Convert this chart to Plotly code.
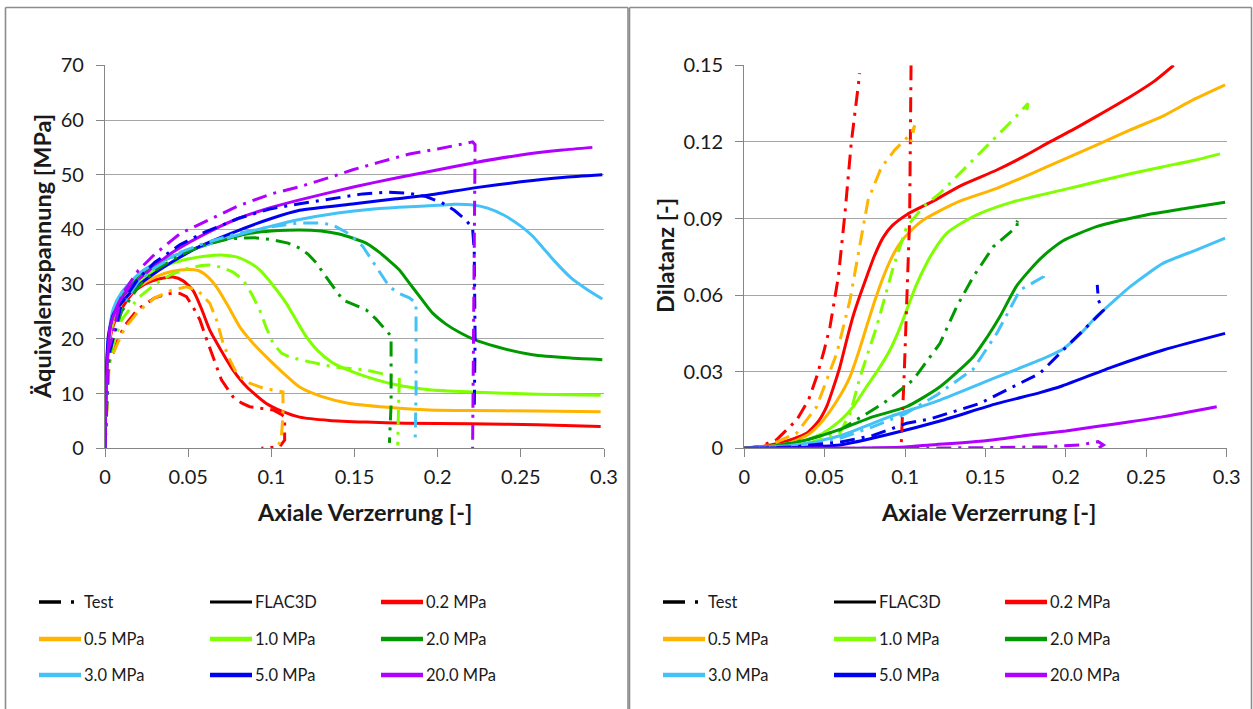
import plotly.graph_objects as go

W, H = 1253, 709

# ---------------- labels / categories ----------------
pressures = ["0.2 MPa", "0.5 MPa", "1.0 MPa", "2.0 MPa", "3.0 MPa", "5.0 MPa", "20.0 MPa"]
colors = ["#FF0000", "#FFB400", "#80FF00", "#009A00", "#44C2F8", "#0000F0", "#B000FF"]
legend_names = ["Test", "FLAC3D"] + pressures
x_ticks = [0, 0.05, 0.1, 0.15, 0.2, 0.25, 0.3]
x_ticktext = ["0", "0.05", "0.1", "0.15", "0.2", "0.25", "0.3"]
stress_ticks = [0, 10, 20, 30, 40, 50, 60, 70]
dil_ticks = [0, 0.03, 0.06, 0.09, 0.12, 0.15]
dil_ticktext = ["0", "0.03", "0.06", "0.09", "0.12", "0.15"]

# ---------------- left panel: stress vs axial strain, FLAC3D ----------------
eps_f_02 = [0, 0.0008, 0.002, 0.005, 0.01, 0.017, 0.025, 0.033, 0.041, 0.047, 0.053, 0.058, 0.063, 0.07, 0.077, 0.085, 0.097, 0.107, 0.117, 0.135, 0.157, 0.18, 0.22, 0.26, 0.298]
sig_f_02 = [0, 12, 18, 22.5, 25.5, 28.5, 30.2, 31.0, 31.3, 30.6, 28.8, 25.5, 21.6, 17.8, 14.3, 11.3, 8.2, 6.7, 5.7, 5.1, 4.8, 4.6, 4.5, 4.3, 4.0]
eps_f_05 = [0, 0.0008, 0.002, 0.005, 0.01, 0.02, 0.03, 0.04, 0.05, 0.056, 0.062, 0.067, 0.074, 0.081, 0.089, 0.097, 0.107, 0.117, 0.13, 0.147, 0.17, 0.195, 0.22, 0.26, 0.298]
sig_f_05 = [0, 12, 18.5, 23, 26.5, 29.5, 31.3, 32.3, 32.7, 32.5, 31.3, 29.5, 26, 22.2, 19.2, 16.7, 13.8, 11.2, 9.5, 8.2, 7.5, 7.0, 6.9, 6.8, 6.7]
eps_f_10 = [0, 0.0008, 0.002, 0.005, 0.01, 0.02, 0.03, 0.04, 0.05, 0.06, 0.071, 0.08, 0.087, 0.093, 0.101, 0.109, 0.115, 0.121, 0.128, 0.137, 0.147, 0.157, 0.175, 0.195, 0.22, 0.26, 0.298]
sig_f_10 = [0, 12.5, 19, 24, 27.5, 30.5, 32.5, 33.8, 34.6, 35.1, 35.3, 34.9, 33.9, 32.6, 29.8, 26.5, 23.4, 20.4, 17.8, 15.6, 14.2, 13.1, 11.6, 10.7, 10.3, 9.9, 9.7]
eps_f_20 = [0, 0.0008, 0.002, 0.005, 0.01, 0.02, 0.03, 0.04, 0.057, 0.07, 0.087, 0.1, 0.117, 0.13, 0.14, 0.15, 0.157, 0.165, 0.172, 0.177, 0.183, 0.19, 0.197, 0.205, 0.213, 0.221, 0.235, 0.257, 0.28, 0.299]
sig_f_20 = [0, 13, 19.5, 25, 28, 31.5, 33.5, 35, 36.8, 38, 39.3, 39.7, 39.9, 39.7, 39.2, 38.3, 37.5, 35.8, 34, 32.6, 30.2, 27.4, 24.7, 22.7, 21.2, 20, 18.6, 17.1, 16.5, 16.2]
eps_f_30 = [0, 0.0008, 0.002, 0.005, 0.01, 0.02, 0.027, 0.04, 0.057, 0.08, 0.1, 0.117, 0.14, 0.16, 0.18, 0.2, 0.21, 0.22, 0.23, 0.24, 0.25, 0.257, 0.264, 0.27, 0.28, 0.29, 0.299]
sig_f_30 = [0, 13, 20, 25.5, 28.5, 31.8, 33.3, 35, 36.8, 39, 40.6, 41.8, 43, 43.7, 44.1, 44.4, 44.6, 44.5, 43.9, 42.6, 40.6, 38.8, 36.4, 34.3, 31.2, 29.0, 27.3]
eps_f_50 = [0, 0.0008, 0.002, 0.005, 0.009, 0.017, 0.027, 0.04, 0.057, 0.08, 0.1, 0.117, 0.15, 0.175, 0.195, 0.222, 0.25, 0.275, 0.299]
sig_f_50 = [0, 13.5, 20.5, 24.5, 26.2, 29, 31.4, 34, 36.9, 39.8, 42, 43.5, 44.7, 45.6, 46.3, 47.6, 48.7, 49.5, 50.0]
eps_f_200 = [0, 0.0008, 0.002, 0.003, 0.006, 0.009, 0.017, 0.027, 0.04, 0.057, 0.08, 0.1, 0.117, 0.15, 0.175, 0.195, 0.222, 0.25, 0.275, 0.293]
sig_f_200 = [0, 12, 18.5, 22, 25, 27, 30, 32.6, 35.7, 38.7, 42, 44, 45.4, 47.8, 49.4, 50.6, 52.2, 53.6, 54.5, 55.0]

# ---------------- left panel: stress vs axial strain, Test ----------------
eps_t_02 = [0, 0.001, 0.002, 0.003, 0.005, 0.008, 0.012, 0.02, 0.03, 0.037, 0.041, 0.045, 0.049, 0.053, 0.057, 0.061, 0.065, 0.07, 0.077, 0.082, 0.087, 0.095, 0.101, 0.106, 0.108, 0.108, 0.105, 0.094]
sig_t_02 = [0, 8, 14, 16.5, 17.5, 20, 22.5, 25.5, 27.5, 28.2, 28.4, 28.3, 27.7, 25.8, 23.5, 20, 16.7, 12.5, 9.4, 8.3, 7.6, 7.2, 7.0, 6.2, 5.7, 1.5, 0.3, 0]
eps_t_05 = [0, 0.001, 0.002, 0.003, 0.005, 0.008, 0.012, 0.02, 0.03, 0.04, 0.049, 0.056, 0.063, 0.067, 0.071, 0.075, 0.079, 0.083, 0.087, 0.095, 0.102, 0.107, 0.107, 0.106, 0.104]
sig_t_05 = [0, 7, 13, 16, 17.5, 19.5, 22, 25, 27.5, 28.9, 29.5, 28.8, 26.5, 23.5, 19.2, 16.2, 13.8, 12.6, 11.9, 11.0, 10.6, 10.3, 6, 2, 0.3]
eps_t_10 = [0, 0.001, 0.002, 0.004, 0.006, 0.01, 0.02, 0.03, 0.04, 0.05, 0.058, 0.063, 0.07, 0.077, 0.083, 0.088, 0.093, 0.097, 0.101, 0.106, 0.111, 0.117, 0.127, 0.137, 0.147, 0.157, 0.167, 0.177, 0.1765, 0.176, 0.176]
sig_t_10 = [0, 8, 14, 18, 20, 23.5, 27.5, 30, 31.8, 32.9, 33.4, 33.5, 33.1, 32.2, 30.8, 28.3, 25.3, 22, 19.2, 17.4, 16.7, 16.2, 15.5, 14.9, 14.6, 14.3, 13.6, 12.9, 8, 3, 0.5]
eps_t_20 = [0, 0.001, 0.002, 0.004, 0.006, 0.01, 0.02, 0.03, 0.045, 0.06, 0.075, 0.09, 0.101, 0.11, 0.117, 0.122, 0.127, 0.132, 0.137, 0.143, 0.15, 0.157, 0.163, 0.169, 0.172, 0.172, 0.171]
sig_t_20 = [0, 9, 15, 19, 21.5, 25, 29.5, 32.5, 35.3, 37.2, 38.3, 38.5, 38.1, 37.5, 36.6, 35.5, 33.9, 31.7, 29.5, 27.1, 26.2, 25.3, 23.6, 21.6, 20.5, 8, 1]
eps_t_30 = [0, 0.001, 0.002, 0.004, 0.006, 0.01, 0.02, 0.03, 0.045, 0.06, 0.08, 0.1, 0.117, 0.13, 0.137, 0.145, 0.15, 0.155, 0.159, 0.163, 0.167, 0.171, 0.177, 0.183, 0.187, 0.187, 0.1865]
sig_t_30 = [0, 9.5, 16, 20, 22.5, 26, 30.5, 33, 35.8, 37.5, 39.3, 40.5, 41.2, 41.2, 40.8, 39.5, 38.3, 36.9, 35, 33.2, 31.3, 29.5, 28.3, 27.5, 26.5, 10, 2]
eps_t_50 = [0, 0.001, 0.002, 0.004, 0.006, 0.01, 0.02, 0.03, 0.045, 0.06, 0.08, 0.1, 0.117, 0.137, 0.155, 0.17, 0.183, 0.193, 0.203, 0.21, 0.217, 0.221, 0.222, 0.2225, 0.222]
sig_t_50 = [0, 10, 17, 19, 21.5, 26.5, 31, 34, 37.2, 39.5, 42, 43.8, 44.7, 45.7, 46.5, 46.8, 46.6, 46, 44.8, 43.5, 41.7, 40.2, 36, 20, 7]
eps_t_200 = [0, 0.001, 0.002, 0.004, 0.006, 0.01, 0.02, 0.03, 0.045, 0.057, 0.08, 0.1, 0.117, 0.137, 0.149, 0.165, 0.183, 0.2, 0.21, 0.218, 0.221, 0.2225, 0.222, 0.2215, 0.221]
sig_t_200 = [0, 11, 18, 20, 22.5, 28, 32.5, 35.5, 39.2, 41, 44.3, 46.5, 47.8, 49.7, 50.9, 52.3, 53.8, 54.7, 55.3, 55.8, 56, 55.5, 40, 15, 0]

# ---------------- right panel: dilatancy vs axial strain, FLAC3D ----------------
deps_f_02 = [0, 0.01, 0.02, 0.03, 0.039, 0.046, 0.0512, 0.0555, 0.0595, 0.0635, 0.0676, 0.072, 0.0761, 0.081, 0.0863, 0.092, 0.101, 0.1174, 0.135, 0.157, 0.175, 0.19, 0.205, 0.219, 0.24, 0.255, 0.267]
dil_f_02 = [0, 0.0006, 0.0018, 0.0036, 0.006, 0.0105, 0.0163, 0.024, 0.032, 0.042, 0.0516, 0.060, 0.0672, 0.0755, 0.0825, 0.0872, 0.0915, 0.0968, 0.103, 0.109, 0.1147, 0.120, 0.125, 0.130, 0.1377, 0.1438, 0.150]
deps_f_05 = [0, 0.015, 0.028, 0.04, 0.049, 0.058, 0.0657, 0.071, 0.076, 0.081, 0.0865, 0.0915, 0.0968, 0.104, 0.1113, 0.12, 0.134, 0.157, 0.178, 0.198, 0.22, 0.24, 0.26, 0.277, 0.299]
dil_f_05 = [0, 0.0008, 0.002, 0.0055, 0.011, 0.019, 0.028, 0.0375, 0.0476, 0.0575, 0.0672, 0.0745, 0.0803, 0.0855, 0.0894, 0.0925, 0.0968, 0.1018, 0.1074, 0.113, 0.119, 0.1247, 0.130, 0.1358, 0.1423]
deps_f_10 = [0, 0.02, 0.035, 0.049, 0.06, 0.068, 0.076, 0.0835, 0.0906, 0.096, 0.101, 0.107, 0.1134, 0.12, 0.126, 0.136, 0.1466, 0.167, 0.1797, 0.2, 0.219, 0.24, 0.2605, 0.28, 0.2958]
dil_f_10 = [0, 0.0008, 0.0025, 0.006, 0.011, 0.0165, 0.0241, 0.031, 0.0385, 0.046, 0.0542, 0.064, 0.0725, 0.0795, 0.0843, 0.0885, 0.092, 0.0965, 0.0985, 0.1015, 0.1044, 0.1075, 0.1103, 0.1128, 0.1153]
deps_f_20 = [0, 0.02, 0.0388, 0.06, 0.0802, 0.101, 0.1217, 0.1424, 0.151, 0.159, 0.1694, 0.1818, 0.19, 0.198, 0.219, 0.25, 0.275, 0.299]
dil_f_20 = [0, 0.001, 0.0033, 0.0075, 0.0124, 0.0163, 0.0241, 0.0359, 0.0435, 0.0516, 0.0636, 0.0728, 0.0775, 0.0812, 0.0868, 0.0914, 0.094, 0.0964]
deps_f_30 = [0, 0.02, 0.0388, 0.06, 0.0906, 0.1217, 0.1528, 0.1839, 0.198, 0.209, 0.219, 0.23, 0.24, 0.2606, 0.2813, 0.299]
dil_f_30 = [0, 0.0007, 0.002, 0.005, 0.0124, 0.0189, 0.0268, 0.0346, 0.0388, 0.0448, 0.0516, 0.0578, 0.0633, 0.0725, 0.0777, 0.0823]
deps_f_50 = [0, 0.03, 0.0595, 0.09, 0.1217, 0.157, 0.1839, 0.198, 0.2295, 0.2606, 0.299]
dil_f_50 = [0, 0.0003, 0.0013, 0.0055, 0.0107, 0.0175, 0.0218, 0.0245, 0.032, 0.0385, 0.045]
deps_f_200 = [0, 0.06, 0.1, 0.1155, 0.15, 0.1777, 0.2, 0.219, 0.24, 0.2606, 0.2938]
dil_f_200 = [0, 0, 0.0005, 0.0013, 0.003, 0.0052, 0.0068, 0.0085, 0.0104, 0.0124, 0.0163]

# ---------------- right panel: dilatancy vs axial strain, Test ----------------
deps_t_02 = [0, 0.01, 0.02, 0.0326, 0.04, 0.045, 0.0495, 0.0533, 0.0585, 0.0626, 0.0665, 0.0718, None, 0.1037, 0.1028, 0.0995, 0.0975]
dil_t_02 = [0, 0.0008, 0.0033, 0.0111, 0.019, 0.028, 0.038, 0.0476, 0.0672, 0.092, 0.1195, 0.1469, None, 0.150, 0.0894, 0.03, 0]
deps_t_05 = [0, 0.015, 0.0326, 0.045, 0.0575, 0.0657, 0.072, 0.077, 0.0852, 0.0935, 0.1039, 0.106, 0.1035]
dil_t_05 = [0, 0.001, 0.006, 0.0163, 0.0372, 0.058, 0.080, 0.0973, 0.110, 0.1168, 0.1234, 0.1265, 0.120]
deps_t_10 = [0, 0.02, 0.04, 0.0595, 0.066, 0.072, 0.0823, 0.0927, 0.101, 0.1113, 0.1217, 0.1404, 0.1528, 0.167, 0.1765, 0.1755]
dil_t_10 = [0, 0.0007, 0.002, 0.006, 0.014, 0.028, 0.0476, 0.0711, 0.0868, 0.0946, 0.0999, 0.1116, 0.1195, 0.1286, 0.1351, 0.132]
deps_t_20 = [0, 0.02, 0.04, 0.0595, 0.0865, 0.105, 0.1217, 0.1321, 0.1424, 0.1549, 0.1694, 0.1705, 0.1695]
dil_t_20 = [0, 0.001, 0.0035, 0.0072, 0.0176, 0.0268, 0.0411, 0.0555, 0.0672, 0.079, 0.0868, 0.090, 0.0885]
deps_t_30 = [0, 0.03, 0.06, 0.0802, 0.1, 0.12, 0.1424, 0.157, 0.1715, 0.186, 0.1855]
dil_t_30 = [0, 0.001, 0.004, 0.0085, 0.0135, 0.021, 0.031, 0.045, 0.062, 0.0672, 0.0695]
deps_t_50 = [0, 0.03, 0.06, 0.08, 0.101, 0.1155, 0.1466, 0.167, 0.1839, 0.2025, 0.219, 0.2233, 0.2202, 0.2195]
dil_t_50 = [0, 0.0005, 0.0025, 0.005, 0.0098, 0.0115, 0.0176, 0.0241, 0.0294, 0.0411, 0.0516, 0.054, 0.058, 0.064]
deps_t_200 = [0, 0.1, 0.157, 0.188, 0.2088, 0.2201, 0.2233, 0.2205]
dil_t_200 = [0, 0, 0.0003, 0.0006, 0.0013, 0.0026, 0.0013, 0.0002]

left_flac = [(eps_f_02, sig_f_02), (eps_f_05, sig_f_05), (eps_f_10, sig_f_10), (eps_f_20, sig_f_20),
             (eps_f_30, sig_f_30), (eps_f_50, sig_f_50), (eps_f_200, sig_f_200)]
left_test = [(eps_t_02, sig_t_02), (eps_t_05, sig_t_05), (eps_t_10, sig_t_10), (eps_t_20, sig_t_20),
             (eps_t_30, sig_t_30), (eps_t_50, sig_t_50), (eps_t_200, sig_t_200)]
right_flac = [(deps_f_02, dil_f_02), (deps_f_05, dil_f_05), (deps_f_10, dil_f_10), (deps_f_20, dil_f_20),
              (deps_f_30, dil_f_30), (deps_f_50, dil_f_50), (deps_f_200, dil_f_200)]
right_test = [(deps_t_02, dil_t_02), (deps_t_05, dil_t_05), (deps_t_10, dil_t_10), (deps_t_20, dil_t_20),
              (deps_t_30, dil_t_30), (deps_t_50, dil_t_50), (deps_t_200, dil_t_200)]

TEST_DASH = "15px,7px,3px,7px"
FONT = "Lato, 'Open Sans', sans-serif"

fig = go.Figure()
for i, name in enumerate(pressures):
    for (xs, ys), xa, ya in [(left_flac[i], "x", "y"), (right_flac[i], "x2", "y2")]:
        fig.add_trace(go.Scatter(x=xs, y=ys, xaxis=xa, yaxis=ya, mode="lines", name=name + " FLAC3D",
                                 line=dict(color=colors[i], width=3, shape="spline", smoothing=0.6),
                                 showlegend=False, connectgaps=False))
for i, name in enumerate(pressures):
    for (xs, ys), xa, ya in [(left_test[i], "x", "y"), (right_test[i], "x2", "y2")]:
        fig.add_trace(go.Scatter(x=xs, y=ys, xaxis=xa, yaxis=ya, mode="lines", name=name + " Test",
                                 line=dict(color=colors[i], width=3, dash=TEST_DASH),
                                 showlegend=False, connectgaps=False))

def px(x):
    return x / W

def py(y):
    return 1 - y / H

axis_common = dict(showline=True, linecolor="#868686", linewidth=1.3, ticks="outside", ticklen=8,
                   tickcolor="#868686", tickwidth=1.3, zeroline=False,
                   tickfont=dict(family=FONT, size=20, color="#1A1A1A"))

ydom = [py(448.3), py(65.3)]
fig.update_layout(
    width=W, height=H, margin=dict(l=0, r=0, t=0, b=0, pad=0, autoexpand=False),
    paper_bgcolor="white", plot_bgcolor="white", showlegend=False,
    font=dict(family=FONT, color="#1A1A1A"),
    xaxis=dict(domain=[px(105), px(604)], range=[0, 0.3], tickvals=x_ticks, ticktext=x_ticktext,
               showgrid=False, anchor="y", ticklabelstandoff=3, **axis_common),
    yaxis=dict(domain=ydom, range=[0, 70], tickvals=stress_ticks, showgrid=True,
               gridcolor="#A6A6A6", gridwidth=1.3, anchor="x", ticklabelstandoff=8, **axis_common),
    xaxis2=dict(domain=[px(744.3), px(1226.7)], range=[0, 0.3], tickvals=x_ticks, ticktext=x_ticktext,
                showgrid=False, anchor="y2", ticklabelstandoff=3, **axis_common),
    yaxis2=dict(domain=ydom, range=[0, 0.15], tickvals=dil_ticks, ticktext=dil_ticktext, showgrid=True,
                gridcolor="#A6A6A6", gridwidth=1.3, anchor="x2", ticklabelstandoff=8, **axis_common),
)

shapes = []
annotations = []
# panel borders
for x0, x1 in [(5.5, 628), (629.5, 1251.5)]:
    for (a, b, c, d) in [(x0, 7.5, x1, 7.5), (x0, 7.5, x0, 709), (x1, 7.5, x1, 709)]:
        shapes.append(dict(type="line", xref="paper", yref="paper", x0=px(a), y0=py(b), x1=px(c), y1=py(d),
                           line=dict(color="#8C8C8C", width=1.6)))

# axis titles
title_font = dict(family=FONT, size=23.5, color="#1A1A1A")
annotations.append(dict(text="<b>Äquivalenzspannung [MPa]</b>", x=px(42), y=py(257), xref="paper", yref="paper",
                        textangle=-90, showarrow=False, font=title_font, xanchor="center", yanchor="middle"))
annotations.append(dict(text="<b>Dilatanz [-]</b>", x=px(665), y=py(256), xref="paper", yref="paper",
                        textangle=-90, showarrow=False, font=title_font, xanchor="center", yanchor="middle"))
for cx in [364, 988]:
    annotations.append(dict(text="<b>Axiale Verzerrung [-]</b>", x=px(cx), y=py(512), xref="paper", yref="paper",
                            showarrow=False, font=title_font, xanchor="center", yanchor="middle"))

# legends (3 x 3 grid under each panel)
leg_colors = ["#000000", "#000000"] + colors
row_y = [602, 639, 675]
col_dx = [34, 205, 376]
for panel_x in [5, 629]:
    for k, name in enumerate(legend_names):
        r, c = divmod(k, 3)
        lx = panel_x + col_dx[c]
        ly = row_y[r]
        if k == 0:
            shapes.append(dict(type="line", xref="paper", yref="paper", x0=px(lx), y0=py(ly), x1=px(lx + 22), y1=py(ly),
                               line=dict(color="black", width=3.5)))
            shapes.append(dict(type="line", xref="paper", yref="paper", x0=px(lx + 32), y0=py(ly), x1=px(lx + 35), y1=py(ly),
                               line=dict(color="black", width=3.5)))
        else:
            shapes.append(dict(type="line", xref="paper", yref="paper", x0=px(lx), y0=py(ly), x1=px(lx + 42), y1=py(ly),
                               line=dict(color=leg_colors[k], width=3 if k == 1 else 4.5)))
        annotations.append(dict(text=name, x=px(lx + 43), y=py(ly), xref="paper", yref="paper", showarrow=False,
                                xanchor="left", yanchor="middle", font=dict(family=FONT, size=16.5, color="#1A1A1A")))

fig.update_layout(shapes=shapes, annotations=annotations)
fig.write_html("out.html", config={"displayModeBar": False},
               post_script="document.body.style.margin='0';document.body.style.overflow='hidden';")
